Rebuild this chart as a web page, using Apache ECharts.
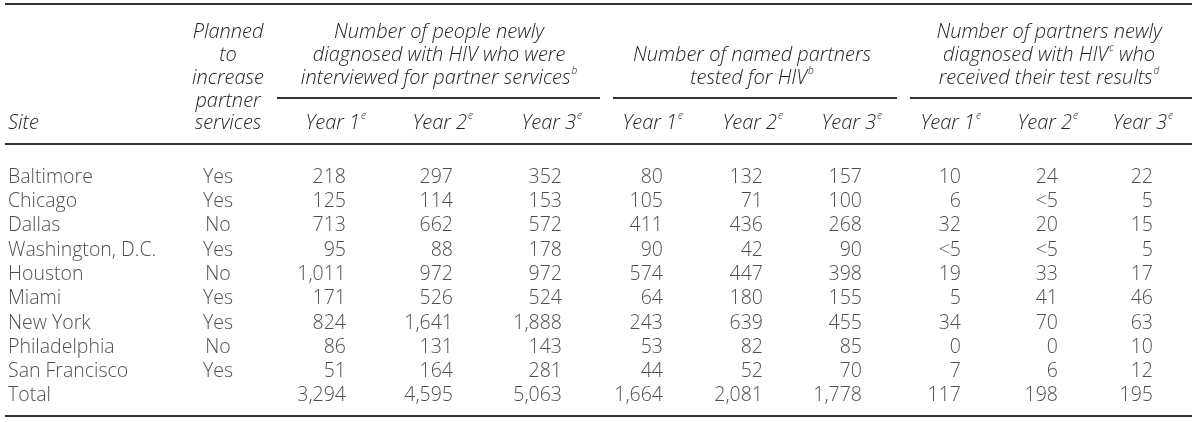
<!DOCTYPE html>
<html>
<head>
<meta charset="utf-8">
<script src="https://cdn.jsdelivr.net/npm/echarts@6/dist/echarts.min.js"></script>
<style>
  html, body { margin: 0; padding: 0; background: #fff; }
  #main { width: 1200px; height: 422px; }
</style>
</head>
<body>
<div id="main"></div>
<script>
// table data
var sites = ['Baltimore', 'Chicago', 'Dallas', 'Washington, D.C.', 'Houston', 'Miami',
             'New York', 'Philadelphia', 'San Francisco', 'Total'];
var planned = ['Yes', 'Yes', 'No', 'Yes', 'No', 'Yes', 'Yes', 'No', 'Yes', ''];

// people newly diagnosed, interviewed
var interviewedY1 = [218, 125, 713, 95, 1011, 171, 824, 86, 51, 3294];
var interviewedY2 = [297, 114, 662, 88, 972, 526, 1641, 131, 164, 4595];
var interviewedY3 = [352, 153, 572, 178, 972, 524, 1888, 143, 281, 5063];
// named partners tested
var testedY1 = [80, 105, 411, 90, 574, 64, 243, 53, 44, 1664];
var testedY2 = [132, 71, 436, 42, 447, 180, 639, 82, 52, 2081];
var testedY3 = [157, 100, 268, 90, 398, 155, 455, 85, 70, 1778];
// partners newly diagnosed who received results ('<5' = suppressed)
var resultsY1 = [10, 6, 32, '<5', 19, 5, 34, 0, 7, 117];
var resultsY2 = [24, '<5', 20, '<5', 33, 41, 70, 0, 6, 198];
var resultsY3 = [22, 5, 15, 5, 17, 46, 63, 10, 12, 195];

var yearLabels = ['Year 1', 'Year 2', 'Year 3'];

// layout (px from left) - right edge of each number column
var colRight = [346, 453, 562, 663, 763, 862, 961, 1058, 1153];
var siteX = 8, plannedX = 218;

var FONT = '"Open Sans", "DejaVu Sans", sans-serif';
var INK = '#222222';
var BODY = 19.5, HEAD = 20;

var myChart = echarts.init(document.getElementById('main'));

function fmt(v) {
    if (typeof v === 'number') return v.toLocaleString('en-US');
    return v;
}

var numCols = [interviewedY1, interviewedY2, interviewedY3,
               testedY1, testedY2, testedY3,
               resultsY1, resultsY2, resultsY3];

var labelBase = { show: true, color: INK, fontFamily: FONT, fontSize: BODY, fontWeight: 300, distance: 0,
                  formatter: function (p) { return p.data.value[2]; } };

var series = [];
// site names
series.push({
    type: 'scatter', symbolSize: 0, silent: true,
    data: sites.map(function (s) { return { value: [siteX, s, s] }; }),
    label: Object.assign({}, labelBase, { position: 'right' })
});
// planned column
series.push({
    type: 'scatter', symbolSize: 0, silent: true,
    data: sites.map(function (s, i) { return { value: [plannedX, s, planned[i]] }; }),
    label: Object.assign({}, labelBase, { position: 'inside' })
});
// numeric columns, right aligned
numCols.forEach(function (col, j) {
    series.push({
        type: 'scatter', symbolSize: 0, silent: true,
        data: sites.map(function (s, i) { return { value: [colRight[j], s, fmt(col[i])] }; }),
        label: Object.assign({}, labelBase, { position: 'left' })
    });
});

// header text
var rich = {
    n: { fontFamily: FONT, fontSize: HEAD, fontStyle: 'italic', fontWeight: 300, color: INK, lineHeight: 23 },
    s: { fontFamily: FONT, fontSize: 10, fontStyle: 'italic', fontWeight: 300, color: INK, lineHeight: 23, verticalAlign: 'top', padding: [0, 0, 0, 1] }
};
function hText(x, y, txt, align) {
    return {
        type: 'text', x: x, y: y, silent: true,
        style: { text: txt, rich: rich, align: align || 'center', verticalAlign: 'middle',
                 font: 'italic 300 ' + HEAD + 'px ' + FONT, fill: INK }
    };
}
function rule(x1, x2, y, w) {
    return { type: 'line', silent: true, shape: { x1: x1, y1: y, x2: x2, y2: y },
             style: { stroke: '#333', lineWidth: w || 2 } };
}

var graphics = [
    rule(5, 1192, 4, 2),
    rule(5, 1192, 144, 2),
    rule(5, 1192, 416, 2),
    rule(277, 600, 98, 2),
    rule(613, 897, 98, 2),
    rule(910, 1192, 98, 2),
    hText(siteX, 123, '{n|Site}', 'left'),
    hText(228, 32, '{n|Planned}'),
    hText(228, 55, '{n|to}'),
    hText(228, 78, '{n|increase}'),
    hText(228, 101, '{n|partner}'),
    hText(228, 123, '{n|services}'),
    hText(439, 32, '{n|Number of people newly}'),
    hText(439, 55, '{n|diagnosed with HIV who were}'),
    hText(439, 78, '{n|interviewed for partner services}{s|b}'),
    hText(752, 55, '{n|Number of named partners}'),
    hText(752, 78, '{n|tested for HIV}{s|b}'),
    hText(1049, 32, '{n|Number of partners newly}'),
    hText(1049, 55, '{n|diagnosed with HIV}{s|c}{n| who}'),
    hText(1049, 78, '{n|received their test results}{s|d}')
];
colRight.forEach(function (x, j) {
    graphics.push(hText(x + 20, 123, '{n|' + yearLabels[j % 3] + '}{s|e}', 'right'));
});

var option = {
    animation: false,
    grid: { left: 0, right: 0, top: 165, height: 243 },
    xAxis: { type: 'value', min: 0, max: 1200, show: false },
    yAxis: { type: 'category', data: sites, inverse: true, show: false },
    series: series,
    graphic: graphics
};

myChart.setOption(option);
</script>
</body>
</html>
